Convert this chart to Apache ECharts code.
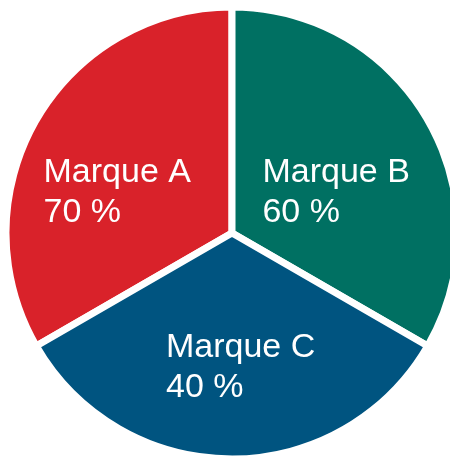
<!DOCTYPE html>
<html>
<head>
<meta charset="utf-8">
<script src="https://cdn.jsdelivr.net/npm/echarts@6/dist/echarts.min.js"></script>
<style>
  html, body { margin: 0; padding: 0; background: #fff; }
  #main { width: 450px; height: 457px; }
</style>
</head>
<body>
<div id="main"></div>
<script>
// data: three equal slices, labelled with a percentage
var brands = ['Marque A', 'Marque B', 'Marque C'];
var percents = [70, 60, 40];
var sliceShares = [1, 1, 1];

var colors = ['#d9222a', '#007062', '#005480'];
// label nudges so the left-aligned text sits where the reference has it
var labelOffsets = [[-13, 18], [5, 18], [9, 19]];

var myChart = echarts.init(document.getElementById('main'));

var pieData = brands.map(function (name, i) {
    return {
        name: name,
        value: sliceShares[i],
        pct: percents[i],
        itemStyle: { color: colors[i] },
        label: { offset: labelOffsets[i] }
    };
});

var option = {
    animation: false,
    series: [
        {
            type: 'pie',
            center: [232, 233],
            radius: 226,
            startAngle: 210,
            clockwise: true,
            data: pieData,
            itemStyle: {
                borderColor: '#ffffff',
                borderWidth: 7
            },
            label: {
                show: true,
                position: 'inside',
                color: '#ffffff',
                fontFamily: 'Liberation Sans',
                fontSize: 34,
                lineHeight: 40,
                formatter: function (p) {
                    return '{t|' + p.name + '}\n{t|' + p.data.pct + ' %}';
                },
                rich: {
                    t: {
                        width: 150,
                        align: 'left',
                        color: '#ffffff',
                        fontFamily: 'Liberation Sans',
                        fontSize: 34,
                        lineHeight: 40
                    }
                }
            },
            labelLine: { show: false },
            emphasis: { disabled: true }
        }
    ]
};

myChart.setOption(option);
</script>
</body>
</html>
